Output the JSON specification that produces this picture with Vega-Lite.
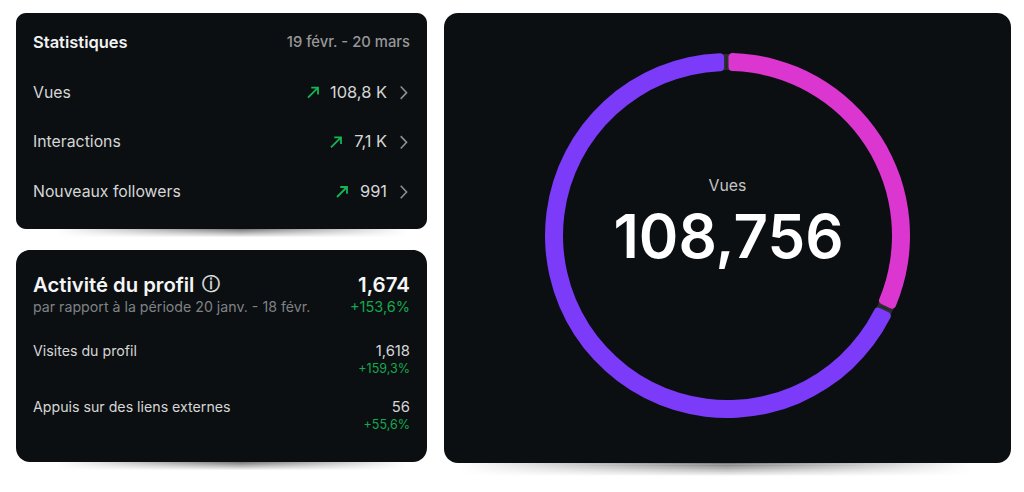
{
  "$schema": "https://vega.github.io/schema/vega-lite/v6.json",
  "background": "white",
  "padding": {"left": 16, "top": 13, "right": 0, "bottom": 0},
  "config": {
    "font": "Inter",
    "view": {"stroke": null},
    "text": {"font": "Inter", "baseline": "middle"}
  },
  "datasets": {
    "depths": [{"depth": 0}, {"depth": 1}, {"depth": 2}, {"depth": 3}, {"depth": 4}, {"depth": 5}, {"depth": 6}, {"depth": 7}, {"depth": 8}],
    "statsHeader": [{"metric": "Statistiques", "period": "19 févr. - 20 mars"}],
    "stats": [
      {"metric": "Vues", "count": 108800, "label": "108,8 K"},
      {"metric": "Interactions", "count": 7100, "label": "7,1 K"},
      {"metric": "Nouveaux followers", "count": 991, "label": "991"}
    ],
    "profileHeader": [{"metric": "Activité du profil", "note": "par rapport à la période 20 janv. - 18 févr.", "count": 1674, "delta": "+153,6%"}],
    "profile": [
      {"metric": "Visites du profil", "count": 1618, "delta": "+159,3%"},
      {"metric": "Appuis sur des liens externes", "count": 56, "delta": "+55,6%"}
    ],
    "views": [
      {"audience": "Followers", "views": 34800},
      {"audience": "Non-followers", "views": 73956}
    ],
    "total": [{"metric": "Vues", "views": 108756}]
  },
  "hconcat": [
    {
      "spacing": 0,
      "vconcat": [
        {
          "width": 411,
          "height": 216,
          "view": {"fill": "#0b0f12", "stroke": null, "cornerRadius": 10},
          "encoding": {
            "y": {"field": "metric", "type": "nominal", "axis": null, "scale": {"type": "point", "padding": 0, "range": [30, 179], "domain": ["Statistiques", "Vues", "Interactions", "Nouveaux followers"]}},
            "x": {"datum": "left", "type": "nominal", "axis": null, "scale": {"type": "point", "padding": 0, "range": [17, 394], "domain": ["left", "right"]}}
          },
          "layer": [
            {
              "data": {"name": "statsHeader"},
              "mark": {"type": "text", "align": "left", "fontSize": 16.5, "fontWeight": 600, "color": "#f2f2f2"},
              "encoding": {"text": {"field": "metric"}}
            },
            {
              "data": {"name": "statsHeader"},
              "mark": {"type": "text", "align": "right", "fontSize": 14.8, "fontWeight": 500, "color": "#979797"},
              "encoding": {"x": {"datum": "right", "type": "nominal"}, "text": {"field": "period"}}
            },
            {
              "data": {"name": "stats"},
              "mark": {"type": "text", "align": "left", "fontSize": 15.8, "color": "#d6d6d6"},
              "encoding": {"text": {"field": "metric"}}
            },
            {
              "data": {"name": "stats"},
              "mark": {"type": "text", "align": "right", "fontSize": 16.4, "dx": -23, "color": "#d6d6d6"},
              "encoding": {"x": {"datum": "right", "type": "nominal"}, "text": {"field": "label"}}
            },
            {
              "data": {"name": "stats"},
              "mark": {"type": "point", "shape": "M-0.35,-0.95L0.55,0L-0.35,0.95", "size": 170, "filled": false, "stroke": "#8e8e8e", "strokeWidth": 1.6, "opacity": 1, "xOffset": -7},
              "encoding": {"x": {"datum": "right", "type": "nominal"}}
            },
            {
              "data": {"name": "stats"},
              "mark": {"type": "point", "shape": "M-1,1L1,-1M-0.35,-1L1,-1L1,0.35", "size": 100, "filled": false, "stroke": "#16b455", "strokeWidth": 1.8, "opacity": 1},
              "encoding": {
                "x": {"datum": "right", "type": "nominal"},
                "xOffset": {"field": "count", "type": "quantitative", "scale": {"domain": [991, 7100, 108800], "range": [-68, -74, -97], "zero": false, "nice": false}}
              }
            }
          ]
        },
        {
          "width": 411,
          "height": 21,
          "data": {"name": "depths"},
          "mark": {"type": "rect", "fill": {"gradient": "linear", "x1": 0, "y1": 0, "x2": 1, "y2": 0, "stops": [{"offset": 0.1, "color": "rgba(70,70,70,0)"}, {"offset": 0.55, "color": "rgba(70,70,70,1)"}, {"offset": 0.95, "color": "rgba(70,70,70,0)"}]}},
          "encoding": {
            "y": {"field": "depth", "type": "ordinal", "axis": null, "scale": {"range": [0, 9], "paddingInner": 0, "paddingOuter": 0}},
            "opacity": {"field": "depth", "type": "quantitative", "legend": null, "scale": {"domain": [0, 8], "range": [0.7, 0]}}
          }
        },
        {
          "width": 411,
          "height": 212,
          "view": {"fill": "#0b0f12", "stroke": null, "cornerRadius": 14},
          "encoding": {
            "y": {"field": "metric", "type": "nominal", "axis": null, "scale": {"type": "point", "padding": 0, "range": [46, 158], "domain": ["Activité du profil", "Visites du profil", "Appuis sur des liens externes"]}},
            "x": {"datum": "left", "type": "nominal", "axis": null, "scale": {"type": "point", "padding": 0, "range": [17, 394], "domain": ["left", "right"]}}
          },
          "layer": [
            {
              "data": {"name": "profileHeader"},
              "mark": {"type": "text", "align": "left", "fontSize": 20.3, "fontWeight": 600, "dy": -10, "color": "#f5f5f5"},
              "encoding": {"text": {"field": "metric"}}
            },
            {
              "data": {"name": "profileHeader"},
              "mark": {"type": "text", "align": "center", "font": "DejaVu Sans", "fontSize": 18, "dx": 178, "dy": -11, "color": "#e8e8e8", "stroke": "#e8e8e8", "strokeWidth": 0.4, "text": "ⓘ"}
            },
            {
              "data": {"name": "profileHeader"},
              "mark": {"type": "text", "align": "left", "fontSize": 14.2, "dy": 12, "color": "#7f8285"},
              "encoding": {"text": {"field": "note"}}
            },
            {
              "data": {"name": "profileHeader"},
              "mark": {"type": "text", "align": "right", "fontSize": 20.5, "fontWeight": 600, "dy": -10, "color": "#f5f5f5"},
              "encoding": {"x": {"datum": "right", "type": "nominal"}, "text": {"field": "count", "type": "quantitative", "format": ",d"}}
            },
            {
              "data": {"name": "profileHeader"},
              "mark": {"type": "text", "align": "right", "fontSize": 14.5, "dy": 12, "color": "#14a94e"},
              "encoding": {"x": {"datum": "right", "type": "nominal"}, "text": {"field": "delta"}}
            },
            {
              "data": {"name": "profile"},
              "mark": {"type": "text", "align": "left", "fontSize": 14.2, "color": "#d6d6d6"},
              "encoding": {"text": {"field": "metric"}}
            },
            {
              "data": {"name": "profile"},
              "mark": {"type": "text", "align": "right", "fontSize": 14.8, "color": "#d6d6d6"},
              "encoding": {"x": {"datum": "right", "type": "nominal"}, "text": {"field": "count", "type": "quantitative", "format": ",d"}}
            },
            {
              "data": {"name": "profile"},
              "mark": {"type": "text", "align": "right", "fontSize": 12.5, "dy": 17, "color": "#14a94e"},
              "encoding": {"x": {"datum": "right", "type": "nominal"}, "text": {"field": "delta"}}
            }
          ]
        },
        {
          "width": 411,
          "height": 21,
          "data": {"name": "depths"},
          "mark": {"type": "rect", "fill": {"gradient": "linear", "x1": 0, "y1": 0, "x2": 1, "y2": 0, "stops": [{"offset": 0.1, "color": "rgba(70,70,70,0)"}, {"offset": 0.55, "color": "rgba(70,70,70,1)"}, {"offset": 0.95, "color": "rgba(70,70,70,0)"}]}},
          "encoding": {
            "y": {"field": "depth", "type": "ordinal", "axis": null, "scale": {"range": [0, 9], "paddingInner": 0, "paddingOuter": 0}},
            "opacity": {"field": "depth", "type": "quantitative", "legend": null, "scale": {"domain": [0, 8], "range": [0.7, 0]}}
          }
        }
      ]
    },
    {
      "spacing": 0,
      "vconcat": [
        {
          "width": 567,
          "height": 450,
          "view": {"fill": "#0b0f12", "stroke": null, "cornerRadius": 14},
          "layer": [
            {
              "data": {"name": "views"},
              "mark": {"type": "arc", "outerRadius": 181.5, "innerRadius": 165.5, "yOffset": -2.5, "fill": "#2c2e32"},
              "encoding": {
                "theta": {"field": "views", "type": "quantitative", "stack": true, "scale": {"range": [-0.007, 6.276]}}
              }
            },
            {
              "data": {"name": "views"},
              "mark": {"type": "arc", "outerRadius": 182.5, "innerRadius": 164.5, "padAngle": 0.018, "cornerRadius": 4, "yOffset": -2.5},
              "encoding": {
                "theta": {"field": "views", "type": "quantitative", "stack": true, "scale": {"range": [-0.007, 6.276]}},
                "color": {"field": "audience", "type": "nominal", "legend": null, "scale": {"domain": ["Followers", "Non-followers"], "range": ["#dc36d0", "#7b3bf8"]}}
              }
            },
            {
              "data": {"name": "total"},
              "mark": {"type": "text", "align": "center", "fontSize": 15.8, "dy": -52, "color": "#c4c4c4"},
              "encoding": {"text": {"field": "metric"}}
            },
            {
              "data": {"name": "total"},
              "mark": {"type": "text", "align": "center", "fontSize": 60, "fontWeight": 600, "dx": 1, "dy": 2, "color": "#ffffff"},
              "encoding": {"text": {"field": "views", "type": "quantitative", "format": ",d"}}
            }
          ]
        },
        {
          "width": 567,
          "height": 20,
          "data": {"name": "depths"},
          "mark": {"type": "rect", "fill": {"gradient": "linear", "x1": 0, "y1": 0, "x2": 1, "y2": 0, "stops": [{"offset": 0.03, "color": "rgba(70,70,70,0)"}, {"offset": 0.5, "color": "rgba(70,70,70,1)"}, {"offset": 0.93, "color": "rgba(70,70,70,0)"}]}},
          "encoding": {
            "y": {"field": "depth", "type": "ordinal", "axis": null, "scale": {"range": [0, 14], "paddingInner": 0, "paddingOuter": 0}},
            "opacity": {"field": "depth", "type": "quantitative", "legend": null, "scale": {"domain": [0, 8], "range": [0.7, 0]}}
          }
        }
      ]
    }
  ],
  "spacing": 17
}
